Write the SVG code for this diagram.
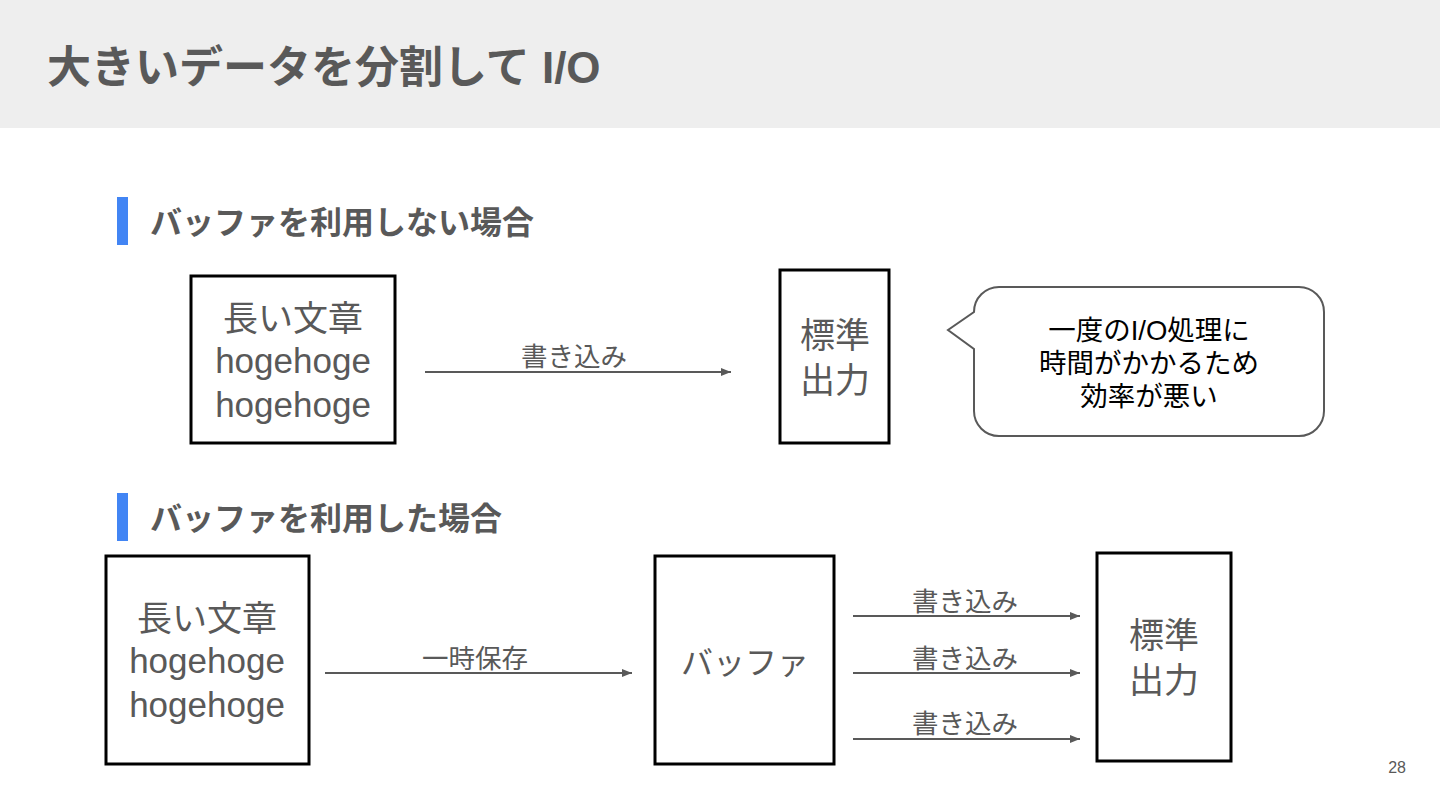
<svg xmlns="http://www.w3.org/2000/svg" width="1440" height="810" viewBox="0 0 1440 810">
<defs>
<marker id="ah" viewBox="0 0 10 8" refX="10" refY="4" markerWidth="10" markerHeight="8" markerUnits="userSpaceOnUse" orient="auto">
<path d="M0,0 L10,4 L0,8 Z" fill="#595959"/>
</marker>
</defs>
<style>
text{font-family:"Liberation Sans","Noto Sans CJK JP",sans-serif;}
.title{font-size:44px;font-weight:bold;fill:#595959;}
.h2{font-size:32px;font-weight:bold;fill:#595959;}
.bar{fill:#4285f4;}
.box{fill:#ffffff;stroke:#000000;stroke-width:3;}
.lbl{font-size:35px;fill:#595959;text-anchor:middle;}
.elbl{font-size:26.5px;fill:#595959;text-anchor:middle;}
.call{font-size:27.5px;fill:#000000;text-anchor:middle;}
.conn{stroke:#595959;stroke-width:2;fill:none;marker-end:url(#ah);}
</style>
<rect x="0" y="0" width="1440" height="810" fill="#ffffff"/>
<rect x="0" y="0" width="1440" height="128" fill="#eeeeee"/>
<text class="title" x="47" y="83">大きいデータを分割して I/O</text>

<g id="section1">
<rect class="bar" x="117" y="197" width="11" height="48"/>
<text class="h2" x="150" y="234">バッファを利用しない場合</text>
</g>
<g id="section2">
<rect class="bar" x="117" y="493" width="11" height="48"/>
<text class="h2" x="150" y="530">バッファを利用した場合</text>
</g>

<g id="text1">
<rect class="box" x="191" y="276" width="204" height="167"/>
<text class="lbl" x="293" y="331">長い文章</text>
<text class="lbl" x="293" y="373">hogehoge</text>
<text class="lbl" x="293" y="417">hogehoge</text>
</g>
<g id="stdout1">
<rect class="box" x="780" y="270" width="109" height="173"/>
<text class="lbl" x="835" y="348">標準</text>
<text class="lbl" x="835" y="393">出力</text>
</g>
<g id="callout">
<path d="M999,287 H1299 A25,25 0 0 1 1324,312 V411 A25,25 0 0 1 1299,436 H999 A25,25 0 0 1 974,411 V349 L948,330 L974,312 A25,25 0 0 1 999,287 Z" fill="#ffffff" stroke="#595959" stroke-width="2"/>
<text class="call" x="1149" y="340">一度のI/O処理に</text>
<text class="call" x="1149" y="373">時間がかかるため</text>
<text class="call" x="1149" y="406">効率が悪い</text>
</g>

<g id="text2">
<rect class="box" x="106" y="556" width="203" height="208"/>
<text class="lbl" x="207" y="631">長い文章</text>
<text class="lbl" x="207" y="673">hogehoge</text>
<text class="lbl" x="207" y="717">hogehoge</text>
</g>
<g id="buffer">
<rect class="box" x="655" y="556" width="179" height="208"/>
<text class="lbl" x="745" y="674" style="font-size:32px">バッファ</text>
</g>
<g id="stdout2">
<rect class="box" x="1097" y="553" width="134" height="208"/>
<text class="lbl" x="1164" y="648">標準</text>
<text class="lbl" x="1164" y="693">出力</text>
</g>

<g id="connectors">
<line class="conn" x1="425" y1="372" x2="731" y2="372"/>
<text class="elbl" x="574" y="366">書き込み</text>
<line class="conn" x1="325" y1="673" x2="632" y2="673"/>
<text class="elbl" x="475" y="668">一時保存</text>
<line class="conn" x1="853" y1="616" x2="1080" y2="616"/>
<text class="elbl" x="965" y="611">書き込み</text>
<line class="conn" x1="853" y1="673" x2="1080" y2="673"/>
<text class="elbl" x="965" y="668">書き込み</text>
<line class="conn" x1="853" y1="739" x2="1080" y2="739"/>
<text class="elbl" x="965" y="733">書き込み</text>
</g>

<text x="1406" y="773" font-size="16" fill="#595959" text-anchor="end">28</text>
</svg>
